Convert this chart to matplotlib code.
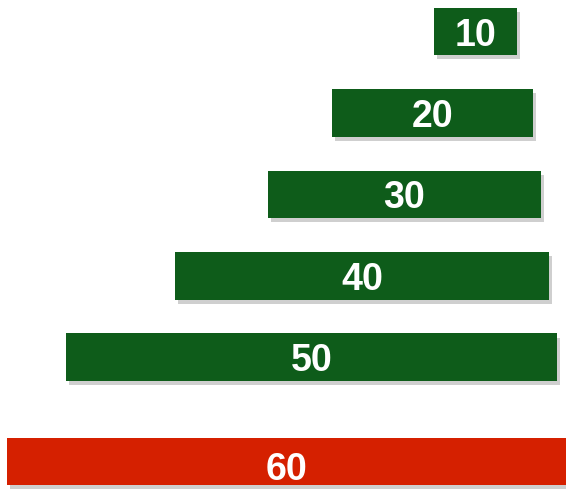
import matplotlib.pyplot as plt
import matplotlib.patheffects as pe

# floating bars: labels, start and end on a 0..566 scale
labels = ['10', '20', '30', '40', '50', '60']
starts = [434, 332, 268, 175, 66, 7]
ends = [517, 533, 541, 549, 557, 570]
rows = [0, 1, 2, 3, 4, 5.28]
colors = ['#0e5c1a'] * 5 + ['#d52000']

plt.rcParams['font.family'] = ['Liberation Sans', 'DejaVu Sans']

fig = plt.figure(figsize=(5.66, 4.94), dpi=100)
ax = fig.add_axes([0, 0, 1, 1])

widths = [e - s for s, e in zip(starts, ends)]
bars = ax.barh(rows, widths, left=starts, height=0.584, color=colors)
for b in bars:
    b.set_path_effects([pe.SimplePatchShadow(offset=(2, -3), shadow_rgbFace='#888888', alpha=0.4),
                        pe.Normal()])

for i, (r, s, e, lab) in enumerate(zip(rows, starts, ends, labels)):
    xc = (s + min(e, 566)) / 2
    dy = 0.05 if i == len(rows) - 1 else 0.0
    ax.text(xc, r + dy, lab, ha='center', va='center_baseline', color='white',
            fontsize=27, fontweight='bold')

ax.set_xlim(0, 566)
ax.set_ylim(5.68, -0.387)
ax.axis('off')

fig.savefig('out.png', dpi=100)
